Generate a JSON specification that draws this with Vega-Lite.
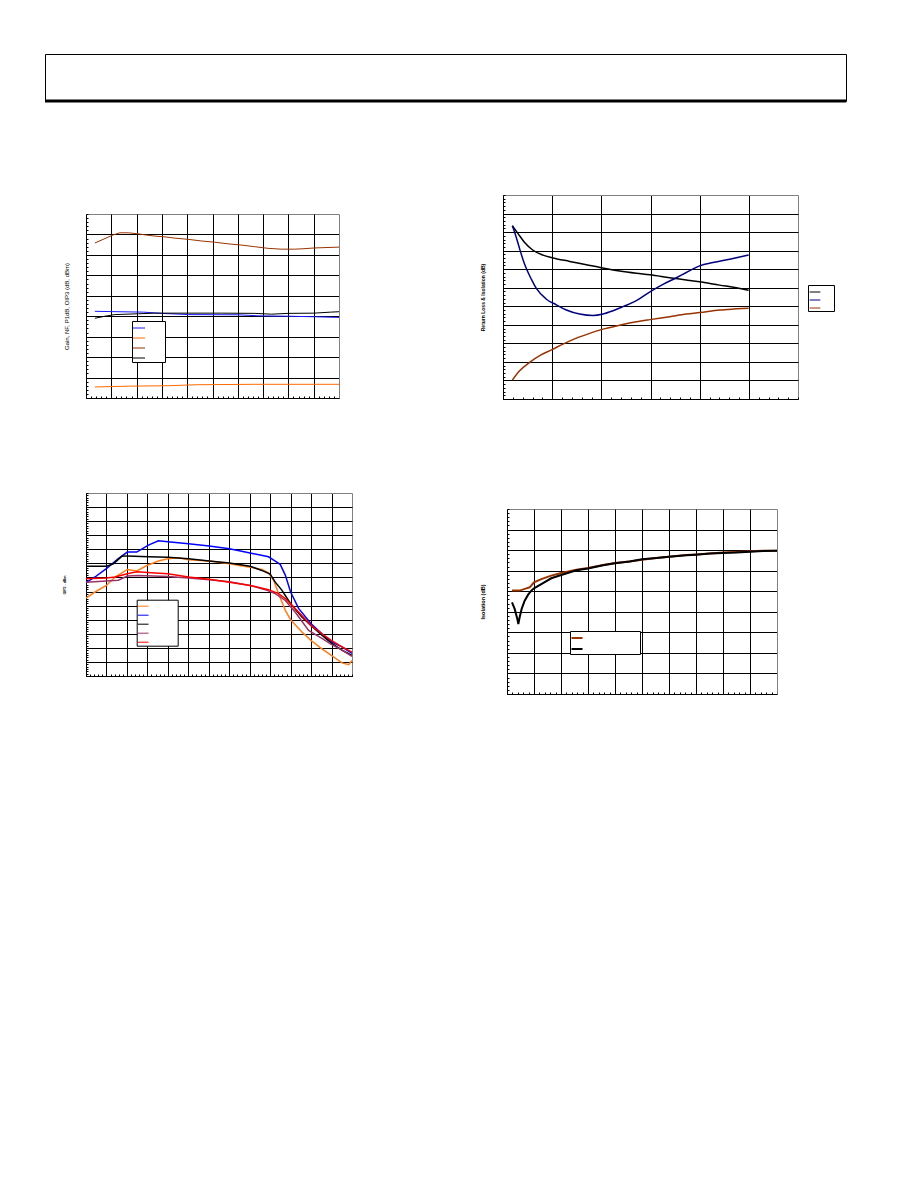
{
"$schema": "https://vega.github.io/schema/vega-lite/v6.json",
"padding": {"left": 43, "top": 53, "right": 5, "bottom": 5},
"background": "white",
"bounds": "flush",
"spacing": 0,
"resolve": {"scale": {"color": "independent", "strokeWidth": "independent"}, "legend": {"color": "independent", "strokeWidth": "independent"}},
"vconcat": [
{"width": 801, "height": 47, "view": {"stroke": "black", "strokeWidth": 1},
 "data": {"values": [{"v": 0}]},
 "mark": {"type": "rule", "strokeWidth": 3, "color": "black"},
 "encoding": {"y": {"field": "v", "type": "quantitative", "scale": {"domain": [0, 1]}, "axis": null}}},
{"width": 1, "height": 94, "data": {"values": []}, "mark": {"type": "point", "opacity": 0}, "encoding": {}},
{"columns": 4, "bounds": "flush", "spacing": 0,
 "resolve": {"scale": {"color": "independent", "strokeWidth": "independent"}, "legend": {"color": "independent", "strokeWidth": "independent"}},
 "concat": [
{"width": 41, "height": 1, "data": {"values": []}, "mark": {"type": "point", "opacity": 0}, "encoding": {}},
{"width": 253, "height": 203,
 "data": {"values": [
{"x":35,"y":37.9,"s":"OIP3"},{"x":75,"y":39.0,"s":"OIP3"},{"x":108,"y":39.9,"s":"OIP3"},{"x":134,"y":40.4,"s":"OIP3"},{"x":167,"y":40.4,"s":"OIP3"},{"x":200,"y":40.2,"s":"OIP3"},{"x":233,"y":39.9,"s":"OIP3"},{"x":272,"y":39.6,"s":"OIP3"},{"x":312,"y":39.4,"s":"OIP3"},{"x":351,"y":39.1,"s":"OIP3"},{"x":404,"y":38.8,"s":"OIP3"},{"x":457,"y":38.4,"s":"OIP3"},{"x":509,"y":38.1,"s":"OIP3"},{"x":562,"y":37.7,"s":"OIP3"},{"x":614,"y":37.4,"s":"OIP3"},{"x":667,"y":37.0,"s":"OIP3"},{"x":720,"y":36.6,"s":"OIP3"},{"x":772,"y":36.4,"s":"OIP3"},{"x":825,"y":36.4,"s":"OIP3"},{"x":858,"y":36.5,"s":"OIP3"},{"x":904,"y":36.7,"s":"OIP3"},{"x":1000,"y":36.9,"s":"OIP3"},
{"x":35,"y":21.2,"s":"Gain"},{"x":227,"y":21.0,"s":"Gain"},{"x":299,"y":20.7,"s":"Gain"},{"x":404,"y":20.4,"s":"Gain"},{"x":601,"y":20.35,"s":"Gain"},{"x":680,"y":20.1,"s":"Gain"},{"x":799,"y":20.0,"s":"Gain"},{"x":917,"y":19.85,"s":"Gain"},{"x":1000,"y":19.7,"s":"Gain"},
{"x":35,"y":19.5,"s":"P1dB"},{"x":75,"y":20.0,"s":"P1dB"},{"x":114,"y":20.4,"s":"P1dB"},{"x":207,"y":20.6,"s":"P1dB"},{"x":272,"y":20.75,"s":"P1dB"},{"x":404,"y":20.75,"s":"P1dB"},{"x":536,"y":20.75,"s":"P1dB"},{"x":667,"y":20.7,"s":"P1dB"},{"x":733,"y":20.5,"s":"P1dB"},{"x":799,"y":20.7,"s":"P1dB"},{"x":901,"y":20.75,"s":"P1dB"},{"x":967,"y":21.0,"s":"P1dB"},{"x":1000,"y":21.1,"s":"P1dB"},
{"x":35,"y":2.7,"s":"NF"},{"x":173,"y":2.9,"s":"NF"},{"x":324,"y":3.0,"s":"NF"},{"x":443,"y":3.25,"s":"NF"},{"x":667,"y":3.35,"s":"NF"},{"x":1000,"y":3.35,"s":"NF"}
 ]},
 "mark": {"type": "line"},
 "encoding": {
  "x": {"field": "x", "type": "quantitative", "scale": {"domain": [0, 1000], "nice": false, "zero": false},
        "axis": {"title": null, "grid": false, "values": [0,20,40,60,80,100,120,140,160,180,200,220,240,260,280,300,320,340,360,380,400,420,440,460,480,500,520,540,560,580,600,620,640,660,680,700,720,740,760,780,800,820,840,860,880,900,920,940,960,980,1000],
                 "tickSize": {"condition": {"test": "datum.value % 100 === 0 && datum.value > 0", "value": -184}, "value": -2},
                 "tickColor": {"condition": {"test": "datum.value === 1000", "value": "#808080"}, "value": "black"}}},
  "y": {"field": "y", "type": "quantitative", "scale": {"domain": [0, 45], "range": [203, 19], "nice": false, "zero": false},
        "axis": {"title": "Gain, NF, P1dB, OIP3 (dB, dBm)", "titleFontSize": 6, "titlePadding": 16,
                 "values": [0,1,2,3,4,5,6,7,8,9,10,11,12,13,14,15,16,17,18,19,20,21,22,23,24,25,26,27,28,29,30,31,32,33,34,35,36,37,38,39,40,41,42,43,44,45],
                 "gridOpacity": {"condition": {"test": "datum.value % 5 === 0", "value": 1}, "value": 0},
                 "gridColor": {"condition": {"test": "datum.value === 45", "value": "#808080"}, "value": "black"}}},
  "color": {"field": "s", "type": "nominal", "scale": {"domain": ["Gain","NF","OIP3","P1dB"], "range": ["#1a1aff","#ff6a00","#993300","#000000"]},
            "legend": {"orient": "none", "legendX": 46, "legendY": 126, "title": null, "labelExpr": "' '", "labelFontSize": 6, "symbolType": "stroke", "symbolSize": 144, "padding": 0.5, "rowPadding": -2, "labelOffset": 19, "fillColor": "white", "strokeColor": "black"}},
  "strokeWidth": {"field": "s", "type": "nominal", "scale": {"domain": ["Gain","NF","OIP3","P1dB"], "range": [1,1,2,2]},
            "legend": {"orient": "none", "legendX": 46, "legendY": 126, "title": null, "labelExpr": "' '", "labelFontSize": 6, "symbolType": "stroke", "symbolSize": 144, "padding": 0.5, "rowPadding": -2, "labelOffset": 19, "fillColor": "white", "strokeColor": "black"}}
 }},
{"width": 151, "height": 1, "data": {"values": []}, "mark": {"type": "point", "opacity": 0}, "encoding": {}},
{"width": 295, "height": 204,
 "data": {"values": [
{"x":95,"y":-8.3,"s":"S11"},{"x":153,"y":-10.4,"s":"S11"},{"x":220,"y":-12.8,"s":"S11"},{"x":305,"y":-14.9,"s":"S11"},{"x":407,"y":-16.2,"s":"S11"},{"x":498,"y":-16.9,"s":"S11"},{"x":678,"y":-17.9,"s":"S11"},{"x":848,"y":-18.8,"s":"S11"},{"x":997,"y":-19.6,"s":"S11"},{"x":1186,"y":-20.5,"s":"S11"},{"x":1356,"y":-21.1,"s":"S11"},{"x":1495,"y":-21.5,"s":"S11"},{"x":1695,"y":-22.3,"s":"S11"},{"x":1864,"y":-22.9,"s":"S11"},{"x":2000,"y":-23.4,"s":"S11"},{"x":2203,"y":-24.3,"s":"S11"},{"x":2373,"y":-25.0,"s":"S11"},{"x":2498,"y":-25.7,"s":"S11"},
{"x":95,"y":-8.3,"s":"S22"},{"x":136,"y":-11.5,"s":"S22"},{"x":170,"y":-14.6,"s":"S22"},{"x":220,"y":-18.7,"s":"S22"},{"x":288,"y":-22.7,"s":"S22"},{"x":339,"y":-25.2,"s":"S22"},{"x":441,"y":-28.1,"s":"S22"},{"x":542,"y":-29.6,"s":"S22"},{"x":644,"y":-31.0,"s":"S22"},{"x":780,"y":-32.1,"s":"S22"},{"x":915,"y":-32.5,"s":"S22"},{"x":1017,"y":-32.1,"s":"S22"},{"x":1119,"y":-31.2,"s":"S22"},{"x":1220,"y":-30.1,"s":"S22"},{"x":1356,"y":-28.5,"s":"S22"},{"x":1495,"y":-26.1,"s":"S22"},{"x":1627,"y":-24.1,"s":"S22"},{"x":1763,"y":-22.3,"s":"S22"},{"x":1864,"y":-20.9,"s":"S22"},{"x":2000,"y":-19.1,"s":"S22"},{"x":2136,"y":-18.2,"s":"S22"},{"x":2305,"y":-17.3,"s":"S22"},{"x":2498,"y":-16.2,"s":"S22"},
{"x":95,"y":-49.9,"s":"S12"},{"x":169,"y":-47.4,"s":"S12"},{"x":271,"y":-45.1,"s":"S12"},{"x":373,"y":-43.3,"s":"S12"},{"x":498,"y":-41.7,"s":"S12"},{"x":610,"y":-40.2,"s":"S12"},{"x":746,"y":-38.6,"s":"S12"},{"x":881,"y":-37.3,"s":"S12"},{"x":997,"y":-36.3,"s":"S12"},{"x":1186,"y":-35.1,"s":"S12"},{"x":1356,"y":-34.2,"s":"S12"},{"x":1495,"y":-33.6,"s":"S12"},{"x":1695,"y":-32.8,"s":"S12"},{"x":1864,"y":-32.1,"s":"S12"},{"x":2000,"y":-31.7,"s":"S12"},{"x":2203,"y":-31.0,"s":"S12"},{"x":2373,"y":-30.7,"s":"S12"},{"x":2498,"y":-30.5,"s":"S12"}
 ]},
 "mark": {"type": "line", "strokeWidth": 1.5, "interpolate": "monotone"},
 "encoding": {
  "x": {"field": "x", "type": "quantitative", "scale": {"domain": [0, 3000], "nice": false, "zero": false},
        "axis": {"title": null, "values": [0,100,200,300,400,500,600,700,800,900,1000,1100,1200,1300,1400,1500,1600,1700,1800,1900,2000,2100,2200,2300,2400,2500,2600,2700,2800,2900,3000],
                 "gridOpacity": {"condition": {"test": "datum.value % 500 === 0", "value": 1}, "value": 0},
                 "gridColor": {"condition": {"test": "datum.value === 3000", "value": "#808080"}, "value": "black"}}},
  "y": {"field": "y", "type": "quantitative", "scale": {"domain": [-55, 0], "nice": false, "zero": false},
        "axis": {"title": "Return Loss & Isolation (dB)", "titleFontSize": 5, "titleFontWeight": "bold", "titlePadding": 17,
                 "values": [-55,-54,-53,-52,-51,-50,-49,-48,-47,-46,-45,-44,-43,-42,-41,-40,-39,-38,-37,-36,-35,-34,-33,-32,-31,-30,-29,-28,-27,-26,-25,-24,-23,-22,-21,-20,-19,-18,-17,-16,-15,-14,-13,-12,-11,-10,-9,-8,-7,-6,-5,-4,-3,-2,-1,0],
                 "gridOpacity": {"condition": {"test": "datum.value % 5 === 0", "value": 1}, "value": 0},
                 "gridColor": {"condition": {"test": "datum.value === 0", "value": "#808080"}, "value": "black"}}},
  "color": {"field": "s", "type": "nominal", "scale": {"domain": ["S11","S22","S12"], "range": ["#000000","#000080","#993300"]},
            "legend": {"orient": "none", "legendX": 305, "legendY": 90, "title": null, "labelExpr": "' '", "labelFontSize": 4.5, "symbolType": "stroke", "symbolSize": 114, "symbolStrokeWidth": 1, "padding": 1, "rowPadding": -1.1, "labelOffset": 12, "fillColor": "white", "strokeColor": "black"}}
 }},

{"width": 1, "height": 94, "data": {"values": []}, "mark": {"type": "point", "opacity": 0}, "encoding": {}},
{"width": 1, "height": 1, "data": {"values": []}, "mark": {"type": "point", "opacity": 0}, "encoding": {}},
{"width": 1, "height": 1, "data": {"values": []}, "mark": {"type": "point", "opacity": 0}, "encoding": {}},
{"width": 1, "height": 1, "data": {"values": []}, "mark": {"type": "point", "opacity": 0}, "encoding": {}},

{"width": 41, "height": 1, "data": {"values": []}, "mark": {"type": "point", "opacity": 0}, "encoding": {}},
{"width": 266, "height": 183,
 "data": {"values": [
{"x":0,"y":26.6,"s":"A"},{"x":44,"y":27.9,"s":"A"},{"x":99.5,"y":29.3,"s":"A"},{"x":142,"y":31.1,"s":"A"},{"x":202,"y":32.7,"s":"A"},{"x":248,"y":32.4,"s":"A"},{"x":300,"y":33.6,"s":"A"},{"x":354,"y":34.5,"s":"A"},{"x":400,"y":35.0,"s":"A"},{"x":452,"y":35.2,"s":"A"},{"x":501,"y":34.8,"s":"A"},{"x":602,"y":34.5,"s":"A"},{"x":701,"y":33.9,"s":"A"},{"x":802,"y":33.2,"s":"A"},{"x":860,"y":32.7,"s":"A"},{"x":892,"y":32.0,"s":"A"},{"x":917,"y":30.4,"s":"A"},{"x":941,"y":27.6,"s":"A"},{"x":974,"y":24.0,"s":"A"},{"x":1000,"y":22.0,"s":"A"},{"x":1055,"y":19.4,"s":"A"},{"x":1099,"y":17.6,"s":"A"},{"x":1153,"y":15.8,"s":"A"},{"x":1199,"y":14.4,"s":"A"},{"x":1251,"y":12.8,"s":"A"},{"x":1284,"y":12.4,"s":"A"},{"x":1300,"y":13.3,"s":"A"},
{"x":0,"y":29.9,"s":"B"},{"x":44,"y":31.1,"s":"B"},{"x":99.5,"y":32.9,"s":"B"},{"x":158,"y":35.0,"s":"B"},{"x":202,"y":36.4,"s":"B"},{"x":248,"y":36.4,"s":"B"},{"x":305,"y":37.9,"s":"B"},{"x":354,"y":38.8,"s":"B"},{"x":400,"y":38.6,"s":"B"},{"x":501,"y":38.2,"s":"B"},{"x":602,"y":37.7,"s":"B"},{"x":701,"y":37.1,"s":"B"},{"x":802,"y":36.2,"s":"B"},{"x":892,"y":35.4,"s":"B"},{"x":925,"y":34.5,"s":"B"},{"x":949,"y":33.8,"s":"B"},{"x":974,"y":31.5,"s":"B"},{"x":1000,"y":27.9,"s":"B"},{"x":1039,"y":24.4,"s":"B"},{"x":1099,"y":21.2,"s":"B"},{"x":1153,"y":19.0,"s":"B"},{"x":1199,"y":17.3,"s":"B"},{"x":1251,"y":16.2,"s":"B"},{"x":1300,"y":14.8,"s":"B"},
{"x":0,"y":33.4,"s":"C"},{"x":99.5,"y":33.4,"s":"C"},{"x":134,"y":33.9,"s":"C"},{"x":174.5,"y":35.5,"s":"C"},{"x":202,"y":35.6,"s":"C"},{"x":305,"y":35.4,"s":"C"},{"x":400,"y":35.3,"s":"C"},{"x":501,"y":35.0,"s":"C"},{"x":602,"y":34.5,"s":"C"},{"x":701,"y":34.1,"s":"C"},{"x":802,"y":33.4,"s":"C"},{"x":859,"y":32.5,"s":"C"},{"x":900,"y":31.7,"s":"C"},{"x":925,"y":30.0,"s":"C"},{"x":957,"y":28.3,"s":"C"},{"x":1000,"y":25.4,"s":"C"},{"x":1055,"y":22.6,"s":"C"},{"x":1099,"y":20.8,"s":"C"},{"x":1153,"y":18.7,"s":"C"},{"x":1199,"y":17.0,"s":"C"},{"x":1251,"y":15.5,"s":"C"},{"x":1300,"y":14.4,"s":"C"},
{"x":0,"y":30.0,"s":"D"},{"x":99.5,"y":30.25,"s":"D"},{"x":158,"y":30.4,"s":"D"},{"x":202,"y":31.3,"s":"D"},{"x":256,"y":31.4,"s":"D"},{"x":400,"y":31.2,"s":"D"},{"x":501,"y":30.9,"s":"D"},{"x":602,"y":30.5,"s":"D"},{"x":701,"y":30.1,"s":"D"},{"x":802,"y":29.3,"s":"D"},{"x":876,"y":28.4,"s":"D"},{"x":925,"y":27.55,"s":"D"},{"x":974,"y":26.1,"s":"D"},{"x":1023,"y":23.6,"s":"D"},{"x":1088,"y":19.7,"s":"D"},{"x":1153,"y":18.0,"s":"D"},{"x":1199,"y":16.75,"s":"D"},{"x":1251,"y":15.5,"s":"D"},{"x":1300,"y":14.2,"s":"D"},
{"x":0,"y":30.7,"s":"E"},{"x":99.5,"y":30.9,"s":"E"},{"x":142,"y":31.1,"s":"E"},{"x":202,"y":31.8,"s":"E"},{"x":248,"y":32.2,"s":"E"},{"x":338,"y":31.95,"s":"E"},{"x":400,"y":31.8,"s":"E"},{"x":501,"y":31.1,"s":"E"},{"x":602,"y":30.6,"s":"E"},{"x":701,"y":30.0,"s":"E"},{"x":802,"y":29.3,"s":"E"},{"x":892,"y":28.4,"s":"E"},{"x":941,"y":27.55,"s":"E"},{"x":974,"y":26.5,"s":"E"},{"x":1006,"y":25.1,"s":"E"},{"x":1055,"y":22.9,"s":"E"},{"x":1099,"y":20.8,"s":"E"},{"x":1153,"y":19.0,"s":"E"},{"x":1199,"y":17.6,"s":"E"},{"x":1251,"y":16.2,"s":"E"},{"x":1300,"y":15.1,"s":"E"}
 ]},
 "mark": {"type": "line", "strokeWidth": 1.5},
 "encoding": {
  "x": {"field": "x", "type": "quantitative", "scale": {"domain": [0, 1300], "nice": false, "zero": false},
        "axis": {"title": null, "values": [0,20,40,60,80,100,120,140,160,180,200,220,240,260,280,300,320,340,360,380,400,420,440,460,480,500,520,540,560,580,600,620,640,660,680,700,720,740,760,780,800,820,840,860,880,900,920,940,960,980,1000,1020,1040,1060,1080,1100,1120,1140,1160,1180,1200,1220,1240,1260,1280,1300],
                 "gridOpacity": {"condition": {"test": "datum.value % 100 === 0", "value": 1}, "value": 0},
                 "gridColor": {"condition": {"test": "datum.value === 1300", "value": "#808080"}, "value": "black"}}},
  "y": {"field": "y", "type": "quantitative", "scale": {"domain": [10, 49], "nice": false, "zero": false},
        "axis": {"title": "OIP3 - dBm", "titleFontSize": 3.5, "titleFontWeight": "bold", "titlePadding": 19,
                 "values": [10,10.5,11,11.5,12,12.5,13,13.5,14,14.5,15,15.5,16,16.5,17,17.5,18,18.5,19,19.5,20,20.5,21,21.5,22,22.5,23,23.5,24,24.5,25,25.5,26,26.5,27,27.5,28,28.5,29,29.5,30,30.5,31,31.5,32,32.5,33,33.5,34,34.5,35,35.5,36,36.5,37,37.5,38,38.5,39,39.5,40,40.5,41,41.5,42,42.5,43,43.5,44,44.5,45,45.5,46,46.5,47,47.5,48,48.5,49],
                 "gridOpacity": {"condition": {"test": "(datum.value - 10) % 3 === 0", "value": 1}, "value": 0},
                 "gridColor": {"condition": {"test": "datum.value === 49", "value": "#808080"}, "value": "black"}}},
  "color": {"field": "s", "type": "nominal", "scale": {"domain": ["A","B","C","D","E"], "range": ["#ff7f1a","#0000ff","#000000","#993366","#ff0000"]},
            "legend": {"orient": "none", "legendX": 50.7, "legendY": 106.7, "title": null, "labelExpr": "' '", "labelFontSize": 6, "symbolType": "stroke", "symbolSize": 114, "symbolStrokeWidth": 1, "padding": 0.5, "rowPadding": 0, "labelOffset": 27.5, "fillColor": "white", "strokeColor": "black"}}
 }},
{"width": 151, "height": 1, "data": {"values": []}, "mark": {"type": "point", "opacity": 0}, "encoding": {}},
{"width": 274, "height": 201,
 "data": {"values": [
{"x":18.5,"y":-39.7,"s":"Isolation 1"},{"x":46.9,"y":-39.7,"s":"Isolation 1"},{"x":71.6,"y":-38.6,"s":"Isolation 1"},{"x":84,"y":-38.1,"s":"Isolation 1"},{"x":100,"y":-35.7,"s":"Isolation 1"},{"x":127,"y":-34.1,"s":"Isolation 1"},{"x":164,"y":-32.4,"s":"Isolation 1"},{"x":201,"y":-31.1,"s":"Isolation 1"},{"x":257,"y":-29.5,"s":"Isolation 1"},{"x":300,"y":-28.7,"s":"Isolation 1"},{"x":356,"y":-27.2,"s":"Isolation 1"},{"x":400,"y":-26.3,"s":"Isolation 1"},{"x":454,"y":-25.5,"s":"Isolation 1"},{"x":500,"y":-24.7,"s":"Isolation 1"},{"x":553,"y":-23.8,"s":"Isolation 1"},{"x":600,"y":-23.2,"s":"Isolation 1"},{"x":664,"y":-22.4,"s":"Isolation 1"},{"x":700,"y":-22.1,"s":"Isolation 1"},{"x":751,"y":-21.6,"s":"Isolation 1"},{"x":800,"y":-21.2,"s":"Isolation 1"},{"x":849,"y":-20.9,"s":"Isolation 1"},{"x":900,"y":-20.6,"s":"Isolation 1"},{"x":948,"y":-20.3,"s":"Isolation 1"},{"x":1000,"y":-20.3,"s":"Isolation 1"},
{"x":18.5,"y":-45.4,"s":"Isolation 2"},{"x":28.4,"y":-48.6,"s":"Isolation 2"},{"x":38.3,"y":-53.5,"s":"Isolation 2"},{"x":42,"y":-56.0,"s":"Isolation 2"},{"x":46.9,"y":-52.7,"s":"Isolation 2"},{"x":54.3,"y":-48.6,"s":"Isolation 2"},{"x":65.4,"y":-44.6,"s":"Isolation 2"},{"x":77.8,"y":-41.8,"s":"Isolation 2"},{"x":90.1,"y":-39.7,"s":"Isolation 2"},{"x":100,"y":-38.6,"s":"Isolation 2"},{"x":127,"y":-36.5,"s":"Isolation 2"},{"x":164,"y":-33.7,"s":"Isolation 2"},{"x":201,"y":-32.1,"s":"Isolation 2"},{"x":257,"y":-29.8,"s":"Isolation 2"},{"x":300,"y":-28.9,"s":"Isolation 2"},{"x":356,"y":-27.4,"s":"Isolation 2"},{"x":400,"y":-26.4,"s":"Isolation 2"},{"x":454,"y":-25.5,"s":"Isolation 2"},{"x":500,"y":-24.5,"s":"Isolation 2"},{"x":553,"y":-23.8,"s":"Isolation 2"},{"x":600,"y":-23.2,"s":"Isolation 2"},{"x":664,"y":-22.5,"s":"Isolation 2"},{"x":700,"y":-22.2,"s":"Isolation 2"},{"x":751,"y":-21.7,"s":"Isolation 2"},{"x":800,"y":-21.4,"s":"Isolation 2"},{"x":849,"y":-21.2,"s":"Isolation 2"},{"x":900,"y":-20.8,"s":"Isolation 2"},{"x":948,"y":-20.4,"s":"Isolation 2"},{"x":1000,"y":-20.3,"s":"Isolation 2"}
 ]},
 "mark": {"type": "line", "strokeWidth": 2},
 "encoding": {
  "x": {"field": "x", "type": "quantitative", "scale": {"domain": [0, 1000], "range": [4, 274], "nice": false, "zero": false},
        "axis": {"title": null, "grid": false, "values": [0,20,40,60,80,100,120,140,160,180,200,220,240,260,280,300,320,340,360,380,400,420,440,460,480,500,520,540,560,580,600,620,640,660,680,700,720,740,760,780,800,820,840,860,880,900,920,940,960,980,1000],
                 "tickSize": {"condition": {"test": "datum.value % 100 === 0 && datum.value > 0", "value": -185}, "value": -2},
                 "tickColor": {"condition": {"test": "datum.value === 1000", "value": "#808080"}, "value": "black"}}},
  "y": {"field": "y", "type": "quantitative", "scale": {"domain": [-90, 0], "range": [201, 16], "nice": false, "zero": false},
        "axis": {"title": "Isolation (dB)", "titleFontSize": 5.5, "titleFontWeight": "bold", "titlePadding": 21, "offset": -4,
                 "values": [-90,-88,-86,-84,-82,-80,-78,-76,-74,-72,-70,-68,-66,-64,-62,-60,-58,-56,-54,-52,-50,-48,-46,-44,-42,-40,-38,-36,-34,-32,-30,-28,-26,-24,-22,-20,-18,-16,-14,-12,-10,-8,-6,-4,-2,0],
                 "gridOpacity": {"condition": {"test": "datum.value % 10 === 0", "value": 1}, "value": 0},
                 "gridColor": {"condition": {"test": "datum.value === 0", "value": "#808080"}, "value": "black"}}},
  "color": {"field": "s", "type": "nominal", "scale": {"domain": ["Isolation 1","Isolation 2"], "range": ["#993300","#000000"]},
            "legend": {"orient": "none", "legendX": 67, "legendY": 138, "title": null, "labelExpr": "' '", "labelFontSize": 6, "symbolType": "stroke", "symbolSize": 121, "symbolStrokeWidth": 2, "padding": 0.5, "rowPadding": -1, "labelOffset": 56, "fillColor": "white", "strokeColor": "black"}}
 }}
 ]}
],
"config": {
 "font": "Liberation Sans",
 "view": {"stroke": null},
 "axis": {"labels": false, "domainColor": "black", "domainWidth": 1, "tickColor": "black", "tickSize": -2, "tickWidth": 1, "gridWidth": 1, "titleFont": "Liberation Sans", "titleColor": "black", "titleFontWeight": "normal"},
 "legend": {"strokeColor": "black"}
}
}
